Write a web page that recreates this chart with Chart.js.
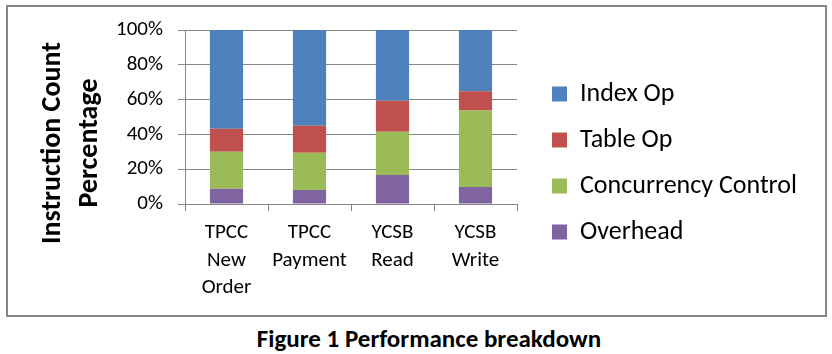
<!DOCTYPE html>
<html>
<head>
<meta charset="utf-8">
<script src="https://cdn.jsdelivr.net/npm/chart.js@4"></script>
<style>
  body { margin: 0; background: #fff; }
  #box {
    position: absolute; left: 6px; top: 5px;
    width: 817px; height: 308px;
    border: 2px solid #868686;
  }
  #caption {
    position: absolute; left: 229px; top: 323px; width: 400px;
    text-align: center;
    font: bold 25px Carlito, Lato, sans-serif;
    color: #000;
  }
</style>
</head>
<body>
<div id="box"><canvas id="bar-chart"></canvas></div>
<div id="caption">Figure 1 Performance breakdown</div>
<script>
var categories = [["TPCC", "New", "Order"], ["TPCC", "Payment"], ["YCSB", "Read"], ["YCSB", "Write"]];
var overhead = [8.7, 8.1, 16.7, 9.8];
var concurrencyControl = [21.3, 21.3, 24.8, 43.9];
var tableOp = [13.3, 15.6, 17.9, 11.1];
var indexOp = [56.7, 55.0, 40.6, 35.2];
var yTicks = [0, 20, 40, 60, 80, 100];

var fontFamily = "Carlito, Lato, sans-serif";
var gridColor = "#868686";

// y axis title drawn by hand so it can sit lower than the plot centre
var yTitle = {
    id: "yTitle",
    afterDraw: function (chart) {
        var ctx = chart.ctx;
        ctx.save();
        ctx.font = "bold 28px " + fontFamily;
        ctx.fillStyle = "#000";
        ctx.textAlign = "center";
        ctx.textBaseline = "middle";
        ctx.translate(45, 136);
        ctx.rotate(-Math.PI / 2);
        ctx.fillText("Instruction Count", 0, 0);
        ctx.fillText("Percentage", 0, 37);
        ctx.restore();
    }
};

// side boxes are capped at a fraction of the width, so give the legend its full width back
var wideLegend = {
    id: "wideLegend",
    beforeLayout: function (chart) {
        var lg = chart.legend;
        if (lg && !lg._wide) {
            var fit = lg.fit;
            lg.fit = function () {
                fit.call(this);
                this.width = 293;
            };
            lg._wide = true;
        }
    }
};

var data = {
    labels: categories,
    datasets: [
        { label: "Overhead", data: overhead, backgroundColor: "#8064A2" },
        { label: "Concurrency Control", data: concurrencyControl, backgroundColor: "#9BBB59" },
        { label: "Table Op", data: tableOp, backgroundColor: "#C0504D" },
        { label: "Index Op", data: indexOp, backgroundColor: "#4F81BD" }
    ]
};

var options = {
    responsive: true,
    maintainAspectRatio: false,
    animation: false,
    devicePixelRatio: 1,
    layout: { padding: { top: 4, left: 0, right: 0, bottom: 0 } },
    datasets: { bar: { barPercentage: 0.4, categoryPercentage: 1.0 } },
    plugins: {
        tooltip: { enabled: false },
        legend: {
            display: true,
            position: "right",
            reverse: true,
            labels: {
                boxWidth: 15,
                boxHeight: 15,
                padding: 20,
                color: "#000",
                font: { family: fontFamily, size: 26 }
            }
        }
    },
    scales: {
        x: {
            stacked: true,
            grid: { display: true, drawOnChartArea: false, drawTicks: true, tickLength: 7, color: gridColor, offset: true },
            border: { display: true, color: gridColor, width: 1 },
            ticks: { color: "#000", padding: 8, maxRotation: 0, autoSkip: false, font: { family: fontFamily, size: 21, lineHeight: 1.31 } },
            afterFit: function (s) { s.height = 111; }
        },
        y: {
            stacked: true,
            min: 0,
            max: 100,
            afterBuildTicks: function (s) { s.ticks = yTicks.map(function (v) { return { value: v }; }); },
            grid: { color: gridColor, lineWidth: 1, drawTicks: true, tickLength: 7 },
            border: { display: true, color: gridColor, width: 1 },
            ticks: {
                color: "#000",
                padding: 15,
                font: { family: fontFamily, size: 21, lineHeight: 0.6 },
                callback: function (v) { return v + "%"; }
            },
            afterFit: function (s) { s.width = 177; }
        },
        topSpace: {
            type: "linear", position: "top", display: true,
            grid: { display: false }, border: { display: false }, ticks: { display: false },
            afterFit: function (s) { s.height = 19; }
        },
        rightSpace: {
            type: "linear", position: "right", display: true,
            grid: { display: false }, border: { display: false }, ticks: { display: false },
            afterFit: function (s) { s.width = 15; }
        }
    }
};

new Chart(document.getElementById("bar-chart"), {
    type: "bar",
    data: data,
    options: options,
    plugins: [yTitle, wideLegend]
});
</script>
</body>
</html>
